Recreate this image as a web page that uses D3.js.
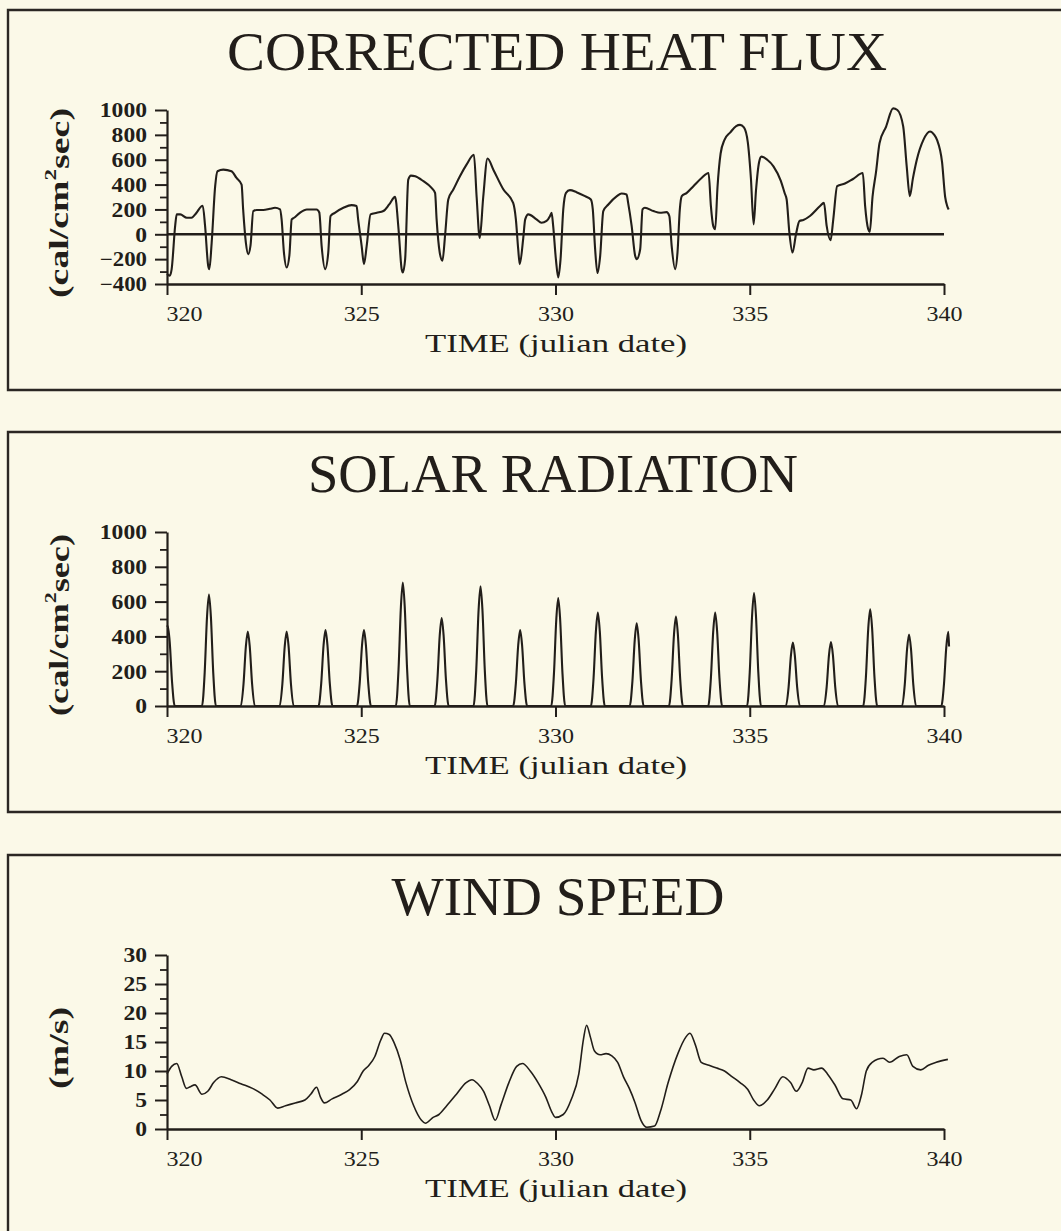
<!DOCTYPE html>
<html><head><meta charset="utf-8">
<script src="https://cdn.jsdelivr.net/npm/d3@7"></script>
<style>html,body{margin:0;padding:0;background:#fbf9e8}</style>
</head><body><script>
// ---------- data ----------
const xTicks = [320, 325, 330, 335, 340];
const fluxTicks = [-400, -200, 0, 200, 400, 600, 800, 1000];
const fluxMinor = [-300, -100, 100, 300, 500, 700, 900];
const solarTicks = [0, 200, 400, 600, 800, 1000];
const solarMinor = [100, 300, 500, 700, 900];
const windTicks = [0, 5, 10, 15, 20, 25, 30];
const windMinor = [2.5, 7.5, 12.5, 17.5, 22.5, 27.5];
const titles = ["CORRECTED HEAT FLUX", "SOLAR RADIATION", "WIND SPEED"];
const xLabel = "TIME (julian date)";

const heatFlux = [
[320.00,-320],[320.07,-333],[320.12,-280],[320.21,67],[320.25,160],[320.34,160],[320.51,133],[320.63,133],
[320.76,173],[320.89,227],[320.92,230],[320.98,67],[321.06,-253],[321.09,-280],[321.15,-67],[321.24,387],
[321.30,507],[321.45,520],[321.66,507],[321.79,453],[321.92,400],[321.96,200],[322.03,-67],[322.09,-160],
[322.15,-90],[322.22,187],[322.31,195],[322.48,195],[322.65,205],[322.78,213],[322.91,200],[322.95,120],
[323.01,-147],[323.08,-267],[323.15,-170],[323.21,120],[323.27,133],[323.42,173],[323.60,200],[323.85,200],
[323.92,175],[323.98,-93],[324.07,-280],[324.15,-150],[324.21,147],[324.32,173],[324.54,213],[324.75,235],
[324.88,227],[324.92,120],[325.01,-93],[325.07,-240],[325.14,-93],[325.24,160],[325.40,173],[325.57,187],
[325.72,240],[325.87,301],[325.96,40],[326.04,-280],[326.07,-307],[326.13,-200],[326.21,440],[326.28,472],
[326.39,467],[326.60,427],[326.81,373],[326.90,333],[326.94,120],[327.02,-147],[327.09,-213],[327.16,0],
[327.24,280],[327.37,360],[327.54,467],[327.71,560],[327.90,640],[327.97,300],[328.05,-30],[328.14,300],
[328.25,610],[328.40,520],[328.66,360],[328.91,253],[328.98,120],[329.04,-120],[329.08,-240],[329.17,-30],
[329.22,120],[329.30,160],[329.51,120],[329.64,93],[329.77,107],[329.86,147],[329.90,173],[329.94,67],
[330.01,-200],[330.07,-347],[330.13,-200],[330.20,200],[330.27,333],[330.37,355],[330.54,339],[330.76,307],
[330.91,280],[330.96,200],[331.02,-120],[331.08,-312],[331.15,-173],[331.23,187],[331.36,240],[331.58,307],
[331.70,328],[331.83,320],[331.87,253],[331.96,67],[332.05,-173],[332.09,-200],[332.18,-120],[332.24,200],
[332.30,213],[332.52,187],[332.69,173],[332.86,178],[332.93,147],[332.99,-93],[333.08,-280],[333.14,-147],
[333.20,200],[333.25,307],[333.38,333],[333.55,387],[333.76,453],[333.94,493],[334.00,227],[334.06,67],
[334.11,40],[334.17,380],[334.25,650],[334.35,760],[334.50,820],[334.65,870],[334.75,880],[334.85,860],
[334.95,740],[335.03,450],[335.10,80],[335.16,350],[335.24,580],[335.30,625],[335.45,600],[335.61,547],
[335.80,430],[335.90,330],[335.95,280],[336.02,13],[336.10,-147],[336.19,0],[336.28,107],[336.38,115],
[336.55,147],[336.81,227],[336.91,253],[336.98,67],[337.08,-48],[337.15,120],[337.25,387],[337.45,408],
[337.66,445],[337.91,493],[337.97,227],[338.05,40],[338.09,19],[338.16,300],[338.25,500],[338.34,733],
[338.51,867],[338.69,1013],[338.80,1000],[338.95,867],[339.04,547],[339.12,307],[339.20,450],[339.30,600],
[339.47,760],[339.64,827],[339.75,800],[339.82,760],[339.95,580],[340.03,300],[340.08,230],[340.12,200]
];

const solarRadiation = [
[320.00,455],[320.02,460],[320.07,368],[320.13,138],[320.20,0],
[320.90,0],[320.97,192],[321.03,512],[321.08,640],[321.13,512],[321.19,192],[321.26,0],
[321.90,0],[321.97,128],[322.03,342],[322.08,428],[322.13,342],[322.19,128],[322.26,0],
[322.90,0],[322.97,128],[323.03,342],[323.08,428],[323.13,342],[323.19,128],[323.26,0],
[323.90,0],[323.97,131],[324.03,349],[324.08,436],[324.13,349],[324.19,131],[324.26,0],
[324.89,0],[324.96,131],[325.02,349],[325.07,436],[325.12,349],[325.18,131],[325.25,0],
[325.89,0],[325.96,213],[326.02,567],[326.07,709],[326.12,567],[326.18,213],[326.25,0],
[326.89,0],[326.96,152],[327.02,405],[327.07,506],[327.12,405],[327.18,152],[327.25,0],
[327.89,0],[327.96,206],[328.02,550],[328.07,688],[328.12,550],[328.18,206],[328.25,0],
[328.91,0],[328.98,131],[329.04,349],[329.09,436],[329.14,349],[329.20,131],[329.27,0],
[329.89,0],[329.96,186],[330.02,496],[330.07,620],[330.12,496],[330.18,186],[330.25,0],
[330.91,0],[330.98,161],[331.04,430],[331.09,537],[331.14,430],[331.20,161],[331.27,0],
[331.91,0],[331.98,143],[332.04,380],[332.09,475],[332.14,380],[332.20,143],[332.27,0],
[332.92,0],[332.99,154],[333.05,411],[333.10,514],[333.15,411],[333.21,154],[333.28,0],
[333.93,0],[334.00,161],[334.06,430],[334.11,537],[334.16,430],[334.22,161],[334.29,0],
[334.93,0],[335.00,195],[335.06,519],[335.11,649],[335.16,519],[335.22,195],[335.29,0],
[335.93,0],[336.00,109],[336.06,291],[336.11,364],[336.16,291],[336.22,109],[336.29,0],
[336.91,0],[336.98,110],[337.04,294],[337.09,368],[337.14,294],[337.20,110],[337.27,0],
[337.92,0],[337.99,167],[338.05,445],[338.10,556],[338.15,445],[338.21,167],[338.28,0],
[338.92,0],[338.99,123],[339.05,329],[339.10,411],[339.15,329],[339.21,123],[339.28,0],
[339.93,0],[340.00,128],[340.06,341],[340.11,426],[340.13,342]
];

const windSpeed = [
[320.00,9.5],[320.12,10.8],[320.25,11.3],[320.38,9.0],[320.50,7.0],[320.60,7.3],[320.72,7.6],[320.90,6.0],
[321.05,6.5],[321.20,8.0],[321.40,9.0],[321.65,8.5],[321.90,7.8],[322.20,7.0],[322.45,6.0],[322.65,5.0],
[322.85,3.6],[323.05,4.0],[323.30,4.5],[323.55,5.0],[323.70,6.0],[323.85,7.2],[323.95,5.5],[324.05,4.5],
[324.25,5.2],[324.50,6.0],[324.70,6.8],[324.90,8.2],[325.05,10.0],[325.20,11.0],[325.35,12.5],[325.50,15.3],
[325.60,16.5],[325.72,16.3],[325.85,14.8],[326.00,12.0],[326.15,8.0],[326.35,4.0],[326.55,1.5],[326.65,1.0],
[326.85,2.0],[327.00,2.5],[327.20,4.0],[327.45,6.0],[327.70,8.0],[327.85,8.5],[328.00,7.8],[328.15,6.5],
[328.30,4.0],[328.45,1.5],[328.60,4.2],[328.80,8.0],[329.00,10.8],[329.15,11.3],[329.35,10.0],[329.55,8.0],
[329.75,5.5],[329.90,3.0],[330.00,2.0],[330.20,2.5],[330.40,5.0],[330.60,9.5],[330.72,15.5],[330.80,17.9],
[330.90,15.8],[331.00,13.5],[331.15,12.8],[331.30,13.0],[331.45,12.6],[331.60,11.5],[331.75,9.0],[331.90,7.0],
[332.05,4.5],[332.20,1.5],[332.35,0.3],[332.55,0.5],[332.70,3.0],[332.90,8.0],[333.15,13.0],[333.35,15.8],
[333.46,16.5],[333.60,14.5],[333.75,11.5],[333.95,11.0],[334.15,10.5],[334.35,10.0],[334.55,9.0],[334.75,8.0],
[334.95,6.8],[335.10,5.0],[335.25,4.0],[335.45,5.0],[335.65,7.0],[335.85,9.0],[336.05,8.0],[336.20,6.5],
[336.35,8.0],[336.50,10.5],[336.65,10.2],[336.85,10.5],[337.00,9.5],[337.20,7.5],[337.40,5.2],[337.60,5.0],
[337.75,3.5],[337.88,6.0],[338.00,10.0],[338.15,11.5],[338.43,12.2],[338.60,11.5],[338.85,12.5],[339.04,12.8],
[339.20,10.8],[339.40,10.2],[339.60,11.0],[339.80,11.5],[340.10,12.0]
];

// ---------- drawing ----------
const W = 1061, H = 1231;
const INK = "#221e1a";
const svg = d3.select("body").append("svg").attr("width", W).attr("height", H);
svg.append("rect").attr("width", W).attr("height", H).attr("fill", "#fbf9e8");

const panels = [
  {top: 10,  title: titles[0], titleW: 660, titleCx: 557, yLab: ["(cal/cm", "2", "sec)"], yLabLen: 190,
   domain: [-400, 1000], major: fluxTicks, minor: fluxMinor, data: heatFlux, zero: true, lw: 2.1},
  {top: 432, title: titles[1], titleW: 490, titleCx: 553, yLab: ["(cal/cm", "2", "sec)"], yLabLen: 182,
   domain: [0, 1000], major: solarTicks, minor: solarMinor, data: solarRadiation, zero: false, lw: 2.1},
  {top: 855, title: titles[2], titleW: 333, titleCx: 558, yLab: ["(m/s)"], yLabLen: 82,
   domain: [0, 30], major: windTicks, minor: windMinor, data: windSpeed, zero: false, lw: 1.6}
];

panels.forEach(p => {
  const g = svg.append("g");
  const x = d3.scaleLinear().domain([320, 340]).range([167, 944]);
  const y = d3.scaleLinear().domain(p.domain).range([p.top + 274, p.top + 100]);
  const axisY = p.top + 274;

  // frame (right side runs off the page)
  g.append("path")
    .attr("d", `M${W + 5},${p.top} H8 V${p.top + 380} H${W + 5}`)
    .attr("fill", "none").attr("stroke", "#2b2723").attr("stroke-width", 2.4);

  // title
  g.append("text").text(p.title)
    .attr("x", p.titleCx).attr("y", p.top + 60)
    .attr("text-anchor", "middle")
    .attr("font-family", "'Liberation Serif', 'DejaVu Serif', serif")
    .attr("font-size", 55).attr("fill", INK)
    .attr("textLength", p.titleW).attr("lengthAdjust", "spacingAndGlyphs");

  // y axis minor ticks
  g.append("g").attr("transform", "translate(167,0)")
    .call(d3.axisLeft(y).tickValues(p.minor).tickSize(7).tickSizeOuter(0).tickFormat(""))
    .call(a => a.select(".domain").remove())
    .call(a => a.selectAll("line").attr("stroke", INK).attr("stroke-width", 1.8));

  // y axis major
  const fmt = d => (d < 0 ? "\u2212" + Math.abs(d) : String(d));
  g.append("g").attr("transform", "translate(167,0)")
    .call(d3.axisLeft(y).tickValues(p.major).tickSize(12).tickSizeOuter(0).tickPadding(8).tickFormat(fmt))
    .call(a => a.select(".domain").attr("stroke", INK).attr("stroke-width", 2.2))
    .call(a => a.selectAll("line").attr("stroke", INK).attr("stroke-width", 2))
    .call(a => a.selectAll("text")
      .attr("font-family", "'Liberation Serif', 'DejaVu Serif', serif")
      .attr("font-size", 20).attr("font-weight", "bold").attr("fill", INK)
      .attr("dy", "0.34em")
      .each(function(d) {
        const n = fmt(d).length;
        d3.select(this).attr("textLength", n * 11.8).attr("lengthAdjust", "spacingAndGlyphs");
      }));

  // x axis
  g.append("g").attr("transform", `translate(0,${axisY})`)
    .call(d3.axisBottom(x).tickValues(xTicks).tickSize(11).tickSizeOuter(0).tickFormat(d3.format("d")))
    .call(a => a.select(".domain").attr("stroke", INK).attr("stroke-width", 2.4))
    .call(a => a.selectAll("line").attr("stroke", INK).attr("stroke-width", 2))
    .call(a => a.selectAll("text")
      .attr("font-family", "'Liberation Serif', 'DejaVu Serif', serif")
      .attr("font-size", 20).attr("fill", INK)
      .attr("y", 37).attr("dy", 0)
      .attr("x", d => (d === 320 ? 17 : 0))
      .attr("textLength", 36).attr("lengthAdjust", "spacingAndGlyphs"));

  // x label
  g.append("text").text(xLabel)
    .attr("x", 556).attr("y", axisY + 68)
    .attr("text-anchor", "middle")
    .attr("font-family", "'Liberation Serif', 'DejaVu Serif', serif")
    .attr("font-size", 26).attr("fill", INK)
    .attr("textLength", 262).attr("lengthAdjust", "spacingAndGlyphs");

  // y label
  const yl = g.append("text")
    .attr("transform", `translate(58,${p.top + 193}) rotate(-90)`)
    .attr("text-anchor", "middle").attr("dy", "0.36em")
    .attr("font-family", "'Liberation Serif', 'DejaVu Serif', serif")
    .attr("font-size", 28).attr("font-weight", "bold").attr("fill", INK)
    .attr("textLength", p.yLabLen).attr("lengthAdjust", "spacingAndGlyphs");
  if (p.yLab.length === 3) {
    yl.append("tspan").text(p.yLab[0]);
    yl.append("tspan").text(p.yLab[1]).attr("font-size", 17).attr("dy", "-0.7em");
    yl.append("tspan").text(p.yLab[2]).attr("dy", "0.45em");
  } else {
    yl.text(p.yLab[0]);
  }

  // zero line
  if (p.zero) {
    g.append("line").attr("x1", x(320)).attr("x2", x(340)).attr("y1", y(0)).attr("y2", y(0))
      .attr("stroke", INK).attr("stroke-width", 2.6);
  }

  // data line
  g.append("path").datum(p.data)
    .attr("fill", "none").attr("stroke", INK).attr("stroke-width", p.lw)
    .attr("stroke-linejoin", "round")
    .attr("d", d3.line().x(d => x(d[0])).y(d => y(d[1])).curve(d3.curveMonotoneX));
});
</script></body></html>
